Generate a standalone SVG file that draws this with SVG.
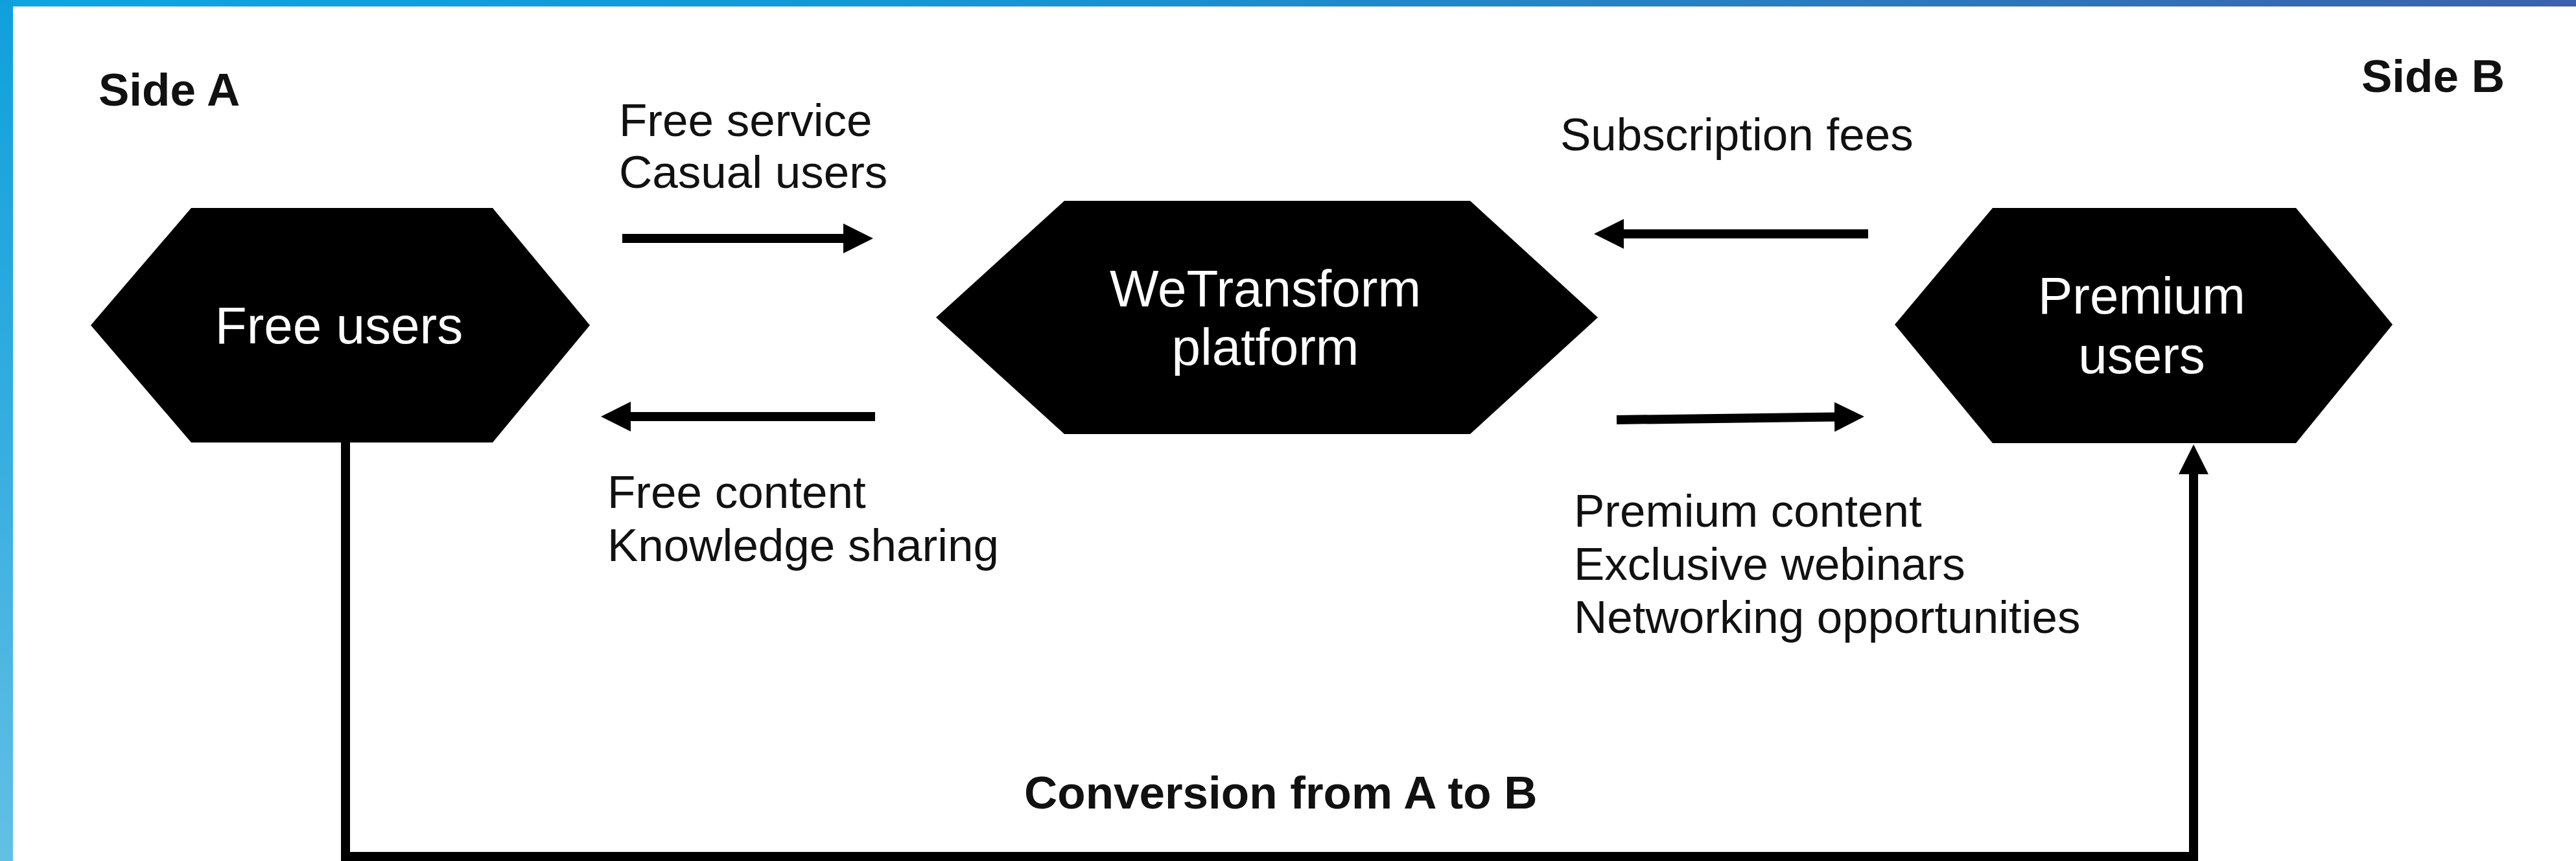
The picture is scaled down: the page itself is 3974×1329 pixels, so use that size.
<svg xmlns="http://www.w3.org/2000/svg" width="3974" height="1329" viewBox="0 0 3974 1329">
  <defs>
    <linearGradient id="topBand" x1="0" y1="0" x2="1" y2="0">
      <stop offset="0" stop-color="#0ea6df"/>
      <stop offset="0.35" stop-color="#1497d6"/>
      <stop offset="0.6" stop-color="#2485c6"/>
      <stop offset="1" stop-color="#3b62ad"/>
    </linearGradient>
    <linearGradient id="leftBand" x1="0" y1="0" x2="0" y2="1">
      <stop offset="0" stop-color="#0fa0dc"/>
      <stop offset="0.5" stop-color="#35ade0"/>
      <stop offset="1" stop-color="#62c0e4"/>
    </linearGradient>
    <marker id="head" markerUnits="userSpaceOnUse" markerWidth="46" markerHeight="46" refX="6" refY="23" orient="auto">
      <path d="M0,0 L46,23 L0,46 Z" fill="#000"/>
    </marker>
    <style>
      .hex { fill: #000; }
      .node-label { font-family: "Liberation Sans", Arial, sans-serif; font-size: 80px; fill: #fff; text-anchor: middle; }
      .label { font-family: "Liberation Sans", Arial, sans-serif; font-size: 71px; fill: #111; }
      .side { font-family: "Liberation Sans", Arial, sans-serif; font-size: 71px; font-weight: bold; fill: #111; }
      .flow { fill: none; stroke: #000; stroke-width: 14; }
      .flow-head { fill: none; stroke: #000; stroke-width: 14; marker-end: url(#head); }
    </style>
  </defs>

  <!-- page background and frame bands -->
  <rect x="0" y="0" width="3974" height="1329" fill="#fff"/>
  <rect x="0" y="0" width="3974" height="10" fill="url(#topBand)"/>
  <rect x="0" y="0" width="20" height="1329" fill="url(#leftBand)"/>

  <!-- side headings -->
  <text class="side" x="152" y="163">Side A</text>
  <text class="side" x="3643" y="142">Side B</text>

  <!-- nodes -->
  <g id="free-users">
    <polygon class="hex" points="140,502 295,321 760,321 910,502 760,683 295,683"/>
    <text class="node-label" x="523" y="530">Free users</text>
  </g>

  <g id="platform">
    <polygon class="hex" points="1444,490 1642,310 2268,310 2465,490 2268,670 1642,670"/>
    <text class="node-label" x="1952" y="473">WeTransform</text>
    <text class="node-label" x="1952" y="563">platform</text>
  </g>

  <g id="premium-users">
    <polygon class="hex" points="2923,501 3074,321 3542,321 3691,501 3542,684 3074,684"/>
    <text class="node-label" x="3304" y="484">Premium</text>
    <text class="node-label" x="3304" y="576">users</text>
  </g>

  <!-- connectors -->
  <g id="connectors">
    <!-- free users -> platform -->
    <line class="flow-head" x1="960" y1="368" x2="1307" y2="368"/>
    <!-- platform -> free users -->
    <line class="flow-head" x1="1350" y1="643" x2="967" y2="643"/>
    <!-- premium users -> platform -->
    <line class="flow-head" x1="2882" y1="361" x2="2499" y2="361"/>
    <!-- platform -> premium users -->
    <line class="flow-head" x1="2494" y1="648" x2="2836" y2="643.5"/>
    <!-- conversion from A to B -->
    <path class="flow-head" stroke-width="13" d="M533,683 V1322 H3384 V726"/>
  </g>

  <!-- connector labels -->
  <g id="labels">
    <text class="label" x="955" y="210">Free service</text>
    <text class="label" x="955" y="290">Casual users</text>
    <text class="label" x="937" y="784">Free content</text>
    <text class="label" x="937" y="866">Knowledge sharing</text>
    <text class="label" x="2407" y="232">Subscription fees</text>
    <text class="label" x="2428" y="813">Premium content</text>
    <text class="label" x="2428" y="895">Exclusive webinars</text>
    <text class="label" x="2428" y="977">Networking opportunities</text>
    <text class="side" x="1580" y="1248">Conversion from A to B</text>
  </g>
</svg>
